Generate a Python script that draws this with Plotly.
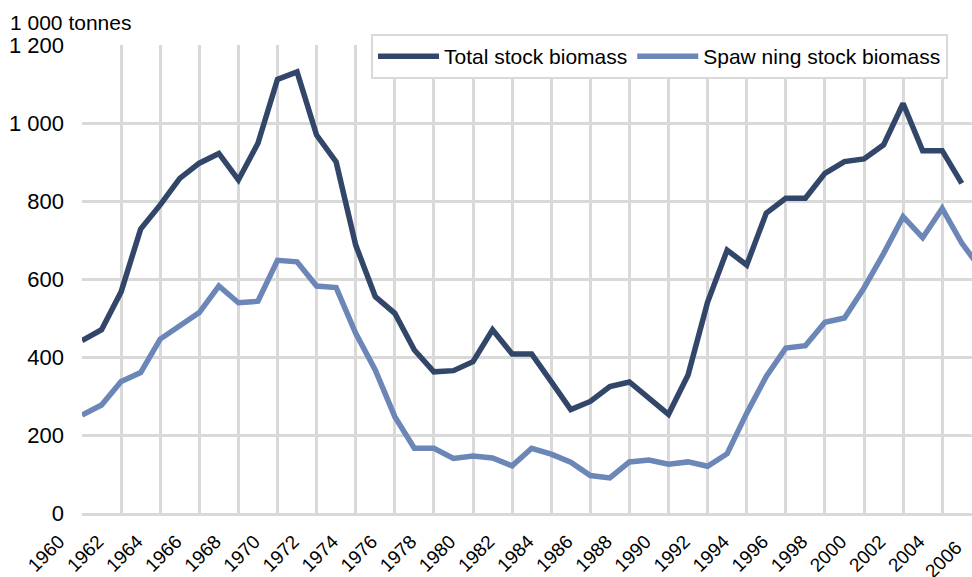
import plotly.graph_objects as go

years = list(range(1960, 2007))
total_stock = [442, 470, 567, 728, 790, 858, 897, 922, 854, 948,
               1112, 1131, 969, 900, 687, 555, 512, 418, 362, 365,
               388, 470, 408, 408, 337, 265, 286, 324, 336, 296,
               253, 354, 541, 674, 636, 769, 807, 807, 871, 901,
               908, 944, 1050, 929, 929, 845, None]
spawning_stock = [251, 277, 337, 360, 446, 480, 514, 582, 539, 543,
                  648, 644, 582, 578, 461, 367, 247, 166, 166, 140,
                  146, 141, 121, 166, 151, 130, 96, 90, 131, 136,
                  125, 131, 120, 152, 256, 350, 423, 429, 489, 500,
                  577, 665, 760, 706, 781, 692, 625]
series_names = ["Total stock biomass", "Spaw ning stock biomass"]
x_tick_vals = list(range(1960, 2005, 2))
x_tick_text = [str(v) for v in x_tick_vals]
last_year_label = "2006"
y_tick_vals = [0, 200, 400, 600, 800, 1000, 1200]
y_tick_text = ["0", "200", "400", "600", "800", "1 000", "1 200"]
unit_label = "1 000 tonnes"

DARK = "#32466A"
LIGHT = "#6B86B7"
GRID = "#D9D9D9"
FONT = "Liberation Sans, Arial, sans-serif"

W, H = 972, 577
ML, MR, MT, MB = 82, 0, 45, 64
px_per_year = 19.55
x_end = 1960 + (W - ML - MR) / px_per_year

fig = go.Figure()
fig.add_trace(go.Scatter(x=years, y=total_stock, mode="lines", name=series_names[0],
                         line=dict(color=DARK, width=5.5), connectgaps=False))
fig.add_trace(go.Scatter(x=years, y=spawning_stock, mode="lines", name=series_names[1],
                         line=dict(color=LIGHT, width=5.5)))

plot_w = W - ML - MR
plot_h = H - MT - MB

fig.update_layout(
    width=W, height=H,
    margin=dict(l=ML, r=MR, t=MT, b=MB, pad=0, autoexpand=False),
    plot_bgcolor="white", paper_bgcolor="white",
    font=dict(family=FONT, size=21, color="black"),
    showlegend=True,
    legend=dict(orientation="h", x=(371 - ML) / plot_w, xanchor="left",
                y=(H - MB - 34) / plot_h, yanchor="top",
                bgcolor="white", bordercolor=GRID, borderwidth=2,
                font=dict(family=FONT, size=21, color="black"),
                itemwidth=61),
    xaxis=dict(range=[1960, x_end], tickmode="array", tickvals=x_tick_vals,
               ticktext=x_tick_text, tickangle=-45, showgrid=True, gridcolor=GRID,
               gridwidth=3, showline=True, linecolor=GRID, linewidth=3,
               zeroline=False, ticks="", tickfont=dict(size=19, family=FONT),
               ticklabelstandoff=7, ticklabelshift=-23, automargin=False),
    yaxis=dict(range=[0, 1200], tickmode="array", tickvals=y_tick_vals,
               ticktext=y_tick_text, showgrid=True, gridcolor=GRID, gridwidth=3,
               zeroline=False, showline=False, ticks="",
               tickfont=dict(size=22, family=FONT), ticklabelstandoff=17,
               automargin=False),
)

fig.add_annotation(text=unit_label, xref="paper", yref="paper",
                   x=(8 - ML) / plot_w, xanchor="left",
                   y=(H - MB - 22.5) / plot_h, yanchor="middle",
                   showarrow=False, font=dict(size=21, family=FONT))
fig.add_annotation(text=last_year_label, xref="x", yref="paper", x=2005, y=0,
                   xanchor="right", yanchor="top", textangle=-45,
                   xshift=px_per_year - 13, yshift=-21, showarrow=False,
                   font=dict(size=19, family=FONT))

fig.write_html("out.html", config={"displayModeBar": False},
               post_script="document.body.style.margin='0px';document.body.style.padding='0px';")
